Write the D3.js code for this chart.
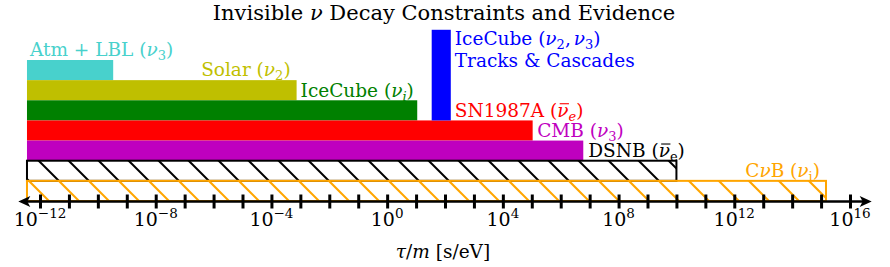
<!DOCTYPE html>
<html>
<head>
<meta charset="utf-8">
<script src="https://cdn.jsdelivr.net/npm/d3@7.9.0/dist/d3.min.js"></script>
<style>
  html, body { margin: 0; padding: 0; background: #fff; }
  svg { display: block; }
  text { font-family: 'DejaVu Serif', serif; font-size: 18.5px; }
</style>
</head>
<body>
<svg id="chart" width="890" height="267"></svg>
<script>
// rows, top to bottom; every bound starts at the same lower edge
const rowNames = ['Atm + LBL', 'Solar', 'IceCube', 'SN1987A', 'CMB', 'DSNB', 'CvB'];
const lowerLog10 = -12.45;
const upperLog10 = [-9.47, -3.13, 1.04, 5.03, 6.78, 10.0, 15.17];
// IceCube tracks & cascades evidence band (log10 tau/m)
const evidenceLog10 = [1.54, 2.2];
const tickExps = d3.range(-12, 17);
const labelExps = [-12, -8, -4, 0, 4, 8, 12, 16];

const rowColors = ['#48d1cc', '#bfbf00', '#008000', '#ff0000', '#bf00bf', '#000000', '#ffa500'];
const hatched = [false, false, false, false, false, true, true];

const svg = d3.select('#chart');
const x = d3.scaleLog().domain([1e-12, 1e16]).range([40, 850]);
const row = d3.scaleLinear().domain([0, rowNames.length]).range([60, 201]);
const axisY = 201.5;

// hatch patterns, aligned to the page like matplotlib's
const defs = svg.append('defs');
['#000000', '#ffa500'].forEach((c, i) => {
  const p = defs.append('pattern')
    .attr('id', `hatch${i}`)
    .attr('patternUnits', 'userSpaceOnUse')
    .attr('width', 30).attr('height', 30);
  const off = 28;
  [-30, 0, 30].forEach((k) => {
    p.append('line')
      .attr('x1', off + k - 40).attr('y1', -40)
      .attr('x2', off + k + 70).attr('y2', 70)
      .attr('stroke', c).attr('stroke-width', 2);
  });
});

// filled bounds
rowNames.forEach((name, i) => {
  const x0 = x(10 ** lowerLog10);
  const x1 = x(10 ** upperLog10[i]);
  const r = svg.append('rect')
    .attr('x', x0).attr('y', row(i))
    .attr('width', x1 - x0).attr('height', row(i + 1) - row(i));
  if (hatched[i]) {
    r.attr('fill', `url(#hatch${i - 5})`)
      .attr('stroke', rowColors[i]).attr('stroke-width', 2);
  } else {
    r.attr('fill', rowColors[i]);
  }
});

// IceCube evidence band
svg.append('rect')
  .attr('x', x(10 ** evidenceLog10[0]))
  .attr('y', row(-1.5))
  .attr('width', x(10 ** evidenceLog10[1]) - x(10 ** evidenceLog10[0]))
  .attr('height', row(3) - row(-1.5))
  .attr('fill', '#0000ff');

// rich text helper: [text, style] with style '', 'i' (italic), 'bar' (italic, overbar),
// 'sub', 'isub', 'sup'
function rich(g, parts, size = 18.5, small = 13) {
  const t = g.append('text').style('font-size', `${size}px`);
  let shift = 0;
  const bars = [];
  let idx = 0;
  parts.forEach(([s, st]) => {
    const ts = t.append('tspan').text(s);
    let target = 0;
    if (st === 'i' || st === 'isub' || st === 'bar') ts.attr('font-style', 'italic');
    if (st === 'sub' || st === 'isub') { ts.style('font-size', `${small}px`); target = 4; }
    if (st === 'sup') { ts.style('font-size', `${small}px`); target = -8; }
    if (st === 'bar') bars.push(idx);
    ts.attr('dy', target - shift);
    shift = target;
    idx += s.length;
  });
  t.bars = bars;
  return t;
}
function drawBars(t, color) {
  const node = t.node();
  t.bars.forEach((i) => {
    const b = node.getExtentOfChar(i);
    svg.append('line')
      .attr('x1', b.x + 2.5).attr('x2', b.x + b.width + 0.5)
      .attr('y1', b.y + 4).attr('y2', b.y + 4)
      .attr('stroke', color).attr('stroke-width', 1.1);
  });
}

const base = (i) => row(i) - 3.7;
const labels = [
  { parts: [['Atm + LBL (', ''], ['ν', 'i'], ['3', 'sub'], [')', '']], x: x(10 ** lowerLog10) + 3, y: base(0), anchor: 'start', c: 0 },
  { parts: [['Solar (', ''], ['ν', 'i'], ['2', 'sub'], [')', '']], x: x(10 ** upperLog10[1]) - 6, y: base(1), anchor: 'end', c: 1 },
  { parts: [['IceCube (', ''], ['ν', 'i'], ['i', 'isub'], [')', '']], x: x(10 ** upperLog10[1]) + 4, y: base(2), anchor: 'start', c: 2 },
  { parts: [['SN1987A (', ''], ['ν', 'bar'], ['e', 'isub'], [')', '']], x: x(10 ** evidenceLog10[1]) + 4, y: base(3), anchor: 'start', c: 3 },
  { parts: [['CMB (', ''], ['ν', 'i'], ['3', 'sub'], [')', '']], x: x(10 ** upperLog10[3]) + 4.5, y: base(4), anchor: 'start', c: 4 },
  { parts: [['DSNB (', ''], ['ν', 'bar'], ['e', 'sub'], [')', '']], x: x(10 ** upperLog10[4]) + 5, y: base(5), anchor: 'start', c: 5 },
  { parts: [['C', ''], ['ν', 'i'], ['B (', ''], ['ν', 'i'], ['i', 'sub'], [')', '']], x: x(10 ** upperLog10[6]) - 6, y: base(6), anchor: 'end', c: 6 },
];
labels.forEach((l) => {
  const t = rich(svg, l.parts)
    .attr('x', l.x).attr('y', l.y)
    .attr('text-anchor', l.anchor)
    .attr('fill', rowColors[l.c]);
  drawBars(t, rowColors[l.c]);
});

// evidence label, two lines
const ex = x(10 ** evidenceLog10[1]) + 4;
rich(svg, [['IceCube (', ''], ['ν', 'i'], ['2', 'sub'], [',', ''], ['ν', 'i'], ['3', 'sub'], [')', '']])
  .attr('x', ex).attr('y', 45).attr('fill', '#0000ff')
  .selectAll('tspan').filter((d, i) => i === 4).attr('dx', 3);
rich(svg, [['Tracks & Cascades', '']])
  .attr('x', ex).attr('y', 66.5).attr('fill', '#0000ff');

// axis
const axis = d3.axisBottom(x)
  .tickValues(tickExps.map((e) => 10 ** e))
  .tickSize(7)
  .tickFormat('');
const ax = svg.append('g').attr('transform', `translate(0,${axisY})`).call(axis);
ax.select('.domain').remove();
ax.selectAll('.tick line').attr('y1', -7).attr('stroke', '#000').attr('stroke-width', 3);

const xl = x(10 ** -12.75);
const xr = x(10 ** 16.75);
svg.append('line')
  .attr('x1', xl + 4).attr('x2', xr - 4)
  .attr('y1', axisY).attr('y2', axisY)
  .attr('stroke', '#000').attr('stroke-width', 2.4);
svg.append('path')
  .attr('d', `M${xl},${axisY} L${xl + 12},${axisY - 5.5} L${xl + 9},${axisY} L${xl + 12},${axisY + 5.5} Z`)
  .attr('fill', '#000');
svg.append('path')
  .attr('d', `M${xr},${axisY} L${xr - 12},${axisY - 5.5} L${xr - 9},${axisY} L${xr - 12},${axisY + 5.5} Z`)
  .attr('fill', '#000');

// tick labels 10^k
labelExps.forEach((e) => {
  rich(svg, [['10', ''], [e < 0 ? `−${-e}` : `${e}`, 'sup']], 19, 13.5)
    .attr('x', x(10 ** e)).attr('y', 226)
    .attr('text-anchor', 'middle');
});

// axis title and chart title
rich(svg, [['τ', 'i'], ['/', ''], ['m', 'i'], [' [s/eV]', '']], 18.5)
  .attr('x', 443).attr('y', 258).attr('text-anchor', 'middle');
rich(svg, [['Invisible ', ''], ['ν', 'i'], [' Decay Constraints and Evidence', '']], 21)
  .attr('x', 444).attr('y', 19.6).attr('text-anchor', 'middle');
</script>
</body>
</html>
